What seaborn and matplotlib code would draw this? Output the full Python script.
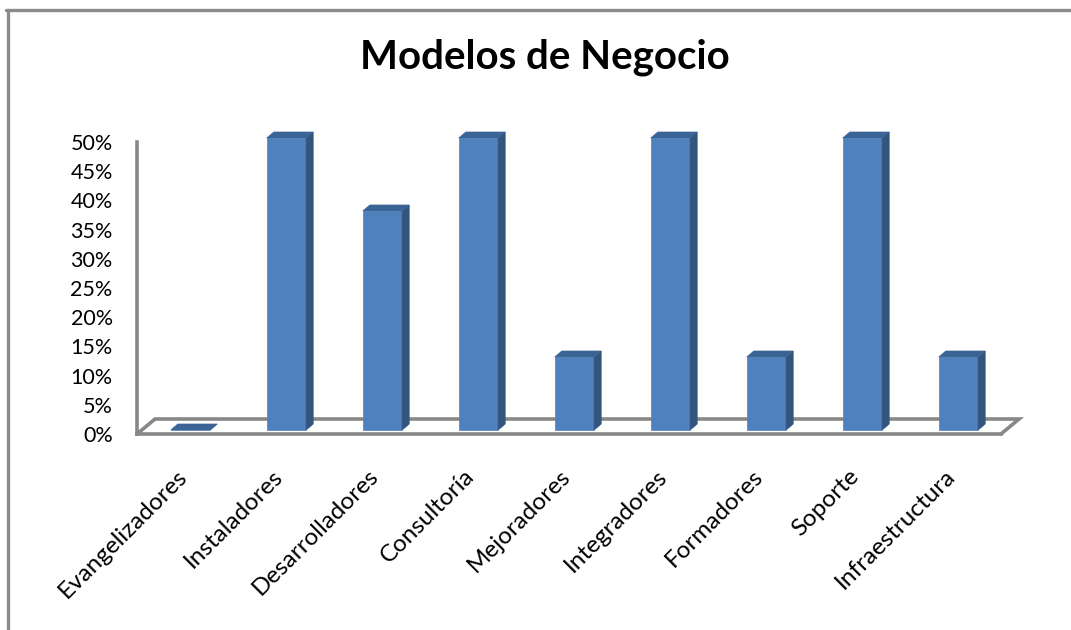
import numpy as np
import matplotlib
matplotlib.use('Agg')
import matplotlib.pyplot as plt
import seaborn as sns
from matplotlib.patches import Polygon
from matplotlib.lines import Line2D
from matplotlib.ticker import FuncFormatter, FixedLocator
from matplotlib.transforms import ScaledTranslation

# data
categorias = ['Evangelizadores', 'Instaladores', 'Desarrolladores', 'Consultoría',
              'Mejoradores', 'Integradores', 'Formadores', 'Soporte', 'Infraestructura']
porcentajes = [0.0, 0.50, 0.375, 0.50, 0.125, 0.50, 0.125, 0.50, 0.125]
y_ticks = [0.0, 0.05, 0.10, 0.15, 0.20, 0.25, 0.30, 0.35, 0.40, 0.45, 0.50]

sns.set_style('white')
plt.rcParams['font.family'] = ['Lato', 'DejaVu Sans']
plt.rcParams['text.color'] = 'black'

W, H = 1071, 630
fig = plt.figure(figsize=(W / 100, H / 100), dpi=100)
fig.patch.set_facecolor('white')

# axes box: floor front edge 137..1001 px at y=434, 50% at y=142
ax = fig.add_axes([137 / W, 1 - 434 / H, (1001 - 137) / W, (434 - 142) / H])

gris = '#878787'
frente = '#4F81BD'
lado = '#33547D'
techo = '#3B6496'

sns.barplot(x=categorias, y=porcentajes, color=frente, width=0.41,
            saturation=1, ax=ax, zorder=3)
ax.set_xlim(-0.5, len(categorias) - 0.5)
ax.set_ylim(0, 0.5)

# pixel -> data conversion
px_x = (len(categorias)) / (1001 - 137)
px_y = 0.5 / (434 - 142)

# floor parallelogram
fdx, fdy = 18 * px_x, 15 * px_y
x0, x1 = -0.5, len(categorias) - 0.5
ax.plot([x0, x0 + fdx, x1 + fdx, x1], [0, fdy, fdy, 0], color=gris, lw=2.6,
        clip_on=False, zorder=1, solid_joinstyle='miter')

# fake depth on bars
bdx, bdy = 7 * px_x, 6 * px_y
sx, sy = 5.5 * px_x, 4 * px_y
for p in list(ax.patches):
    bx, bw, bh = p.get_x() + sx, p.get_width(), p.get_height()
    by = sy
    p.set_x(bx)
    p.set_y(by)
    p.set_clip_on(False)
    p.set_edgecolor(frente)
    p.set_linewidth(0.5)
    top = by + bh
    side = Polygon([(bx + bw, by), (bx + bw + bdx, by + bdy),
                    (bx + bw + bdx, top + bdy), (bx + bw, top)],
                   closed=True, facecolor=lado, edgecolor=lado, lw=0.5,
                   zorder=3, clip_on=False)
    cap = Polygon([(bx, top), (bx + bdx, top + bdy), (bx + bw + bdx, top + bdy),
                   (bx + bw, top)], closed=True, facecolor=techo,
                  edgecolor=techo, lw=0.5, zorder=3, clip_on=False)
    ax.add_patch(side)
    ax.add_patch(cap)

# spines / ticks
for s in ['top', 'right']:
    ax.spines[s].set_visible(False)
for s in ['left', 'bottom']:
    ax.spines[s].set_color(gris)
    ax.spines[s].set_linewidth(2.6)
    ax.spines[s].set_zorder(2)

ax.set_yticks(y_ticks)
ax.yaxis.set_major_formatter(FuncFormatter(lambda v, _: f'{v * 100:.0f}%'))
ax.tick_params(axis='y', length=6.5, width=2, color=gris, pad=11,
               labelsize=15.5, labelcolor='black')

ax.set_xticks(range(len(categorias)))
ax.set_xticklabels(categorias, rotation=45, ha='right', va='top',
                   rotation_mode='anchor', fontsize=17.5, color='black')
ax.xaxis.set_minor_locator(FixedLocator(np.arange(-0.5, len(categorias), 1.0)))
ax.tick_params(axis='x', which='major', length=0, pad=19)
ax.tick_params(axis='x', which='minor', length=5, width=2, color=gris)
shift = ScaledTranslation(-9 / 100, -5 / 100, fig.dpi_scale_trans)
for lbl in ax.get_xticklabels():
    lbl.set_transform(lbl.get_transform() + shift)
ax.set_xlabel('')
ax.set_ylabel('')
ax.grid(False)
ax.patch.set_alpha(0)

fig.text(545 / W, 1 - 57 / H, 'Modelos de Negocio', ha='center', va='center',
         fontsize=29, fontweight='bold', color='black')

# chart frame (top and left edges visible)
fig.add_artist(Line2D([6 / W, 1], [1 - 9.5 / H, 1 - 9.5 / H], color='#8A8A8A',
                      lw=2.4, transform=fig.transFigure))
fig.add_artist(Line2D([7.5 / W, 7.5 / W], [0, 1 - 9.5 / H], color='#8A8A8A',
                      lw=2.4, transform=fig.transFigure))

fig.savefig('out.png', dpi=100)
